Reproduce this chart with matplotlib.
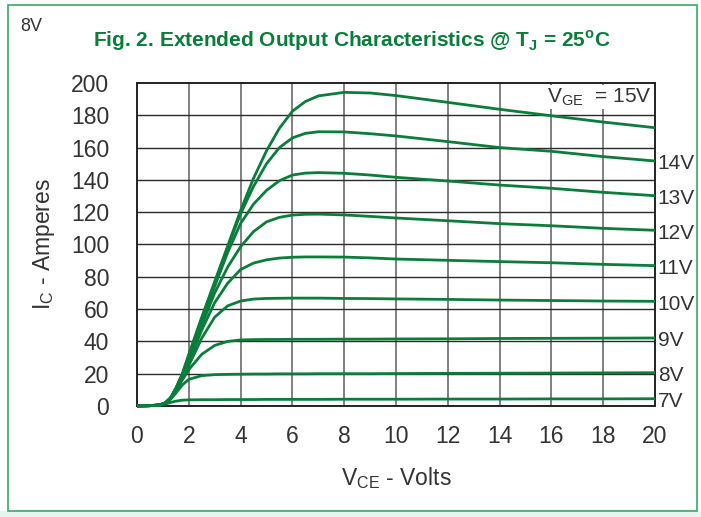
import matplotlib.pyplot as plt
from matplotlib.patches import Rectangle

# V_CE sample points (volts)
vce = [0, 0.5, 0.9, 1.1, 1.3, 1.5, 1.75, 2, 2.5, 3, 3.5, 4, 4.5, 5, 5.5,
       6, 6.5, 7, 8, 9, 10, 12, 14, 16, 18, 20]

# I_C (amperes), one list per gate voltage
ic_7v = [0, 0.2, 0.6, 1.2, 2.2, 3.0, 3.6, 3.8, 3.9, 3.9, 4.0, 4.0, 4.0, 4.1, 4.1,
         4.1, 4.1, 4.1, 4.2, 4.2, 4.2, 4.3, 4.3, 4.4, 4.4, 4.5]
ic_8v = [0, 0.2, 0.7, 1.8, 4.2, 8.0, 13.0, 16.5, 18.8, 19.4, 19.6, 19.7, 19.8, 19.8, 19.9,
         19.9, 19.9, 20.0, 20.0, 20.0, 20.1, 20.2, 20.3, 20.4, 20.5, 20.6]
ic_9v = [0, 0.2, 0.7, 2.0, 4.8, 9.5, 16.0, 22.5, 32.0, 37.5, 40.0, 40.9, 41.1, 41.2, 41.2,
         41.3, 41.3, 41.3, 41.4, 41.4, 41.5, 41.6, 41.8, 41.9, 42.0, 42.1]
ic_10v = [0, 0.2, 0.7, 2.0, 5.0, 10.0, 17.0, 25.0, 42.0, 55.0, 62.0, 65.0, 66.2, 66.6, 66.7,
          66.8, 66.8, 66.8, 66.6, 66.5, 66.3, 66.0, 65.6, 65.3, 65.0, 64.8]
ic_11v = [0, 0.2, 0.7, 2.0, 5.0, 10.2, 18.0, 27.0, 47.0, 64.0, 76.0, 84.5, 88.5, 90.5, 91.6,
          92.1, 92.3, 92.3, 92.2, 91.7, 91.0, 90.2, 89.4, 88.7, 87.7, 86.9]
ic_12v = [0, 0.2, 0.7, 2.0, 5.0, 10.4, 18.5, 28.0, 50.0, 70.0, 86.0, 98.6, 108.0, 114.0, 116.8,
          118.2, 118.7, 118.8, 118.3, 117.4, 116.4, 114.7, 112.9, 111.6, 110.0, 108.8]
ic_13v = [0, 0.2, 0.7, 2.0, 5.0, 10.6, 19.0, 30.0, 53.0, 74.0, 95.0, 113.0, 125.0, 133.5, 139.5,
          143.0, 144.2, 144.5, 144.1, 143.0, 141.6, 139.3, 136.8, 134.8, 132.3, 130.2]
ic_14v = [0, 0.2, 0.7, 2.0, 5.0, 10.8, 19.5, 31.0, 54.0, 76.0, 98.0, 119.0, 136.0, 150.0, 160.0,
          166.0, 168.8, 169.8, 169.7, 168.6, 167.2, 163.7, 160.0, 157.7, 154.4, 151.7]
ic_15v = [0, 0.2, 0.7, 2.0, 5.0, 11.0, 20.0, 32.0, 55.0, 77.0, 99.0, 121.0, 141.0, 158.0, 172.0,
          182.5, 188.5, 192.0, 194.2, 193.8, 192.2, 188.0, 183.7, 179.7, 175.8, 172.3]

curves = [ic_7v, ic_8v, ic_9v, ic_10v, ic_11v, ic_12v, ic_13v, ic_14v, ic_15v]
end_labels = ["7V", "8V", "9V", "10V", "11V", "12V", "13V", "14V"]

x_ticks = list(range(0, 21, 2))
y_ticks = list(range(0, 201, 20))

green = "#0b7d3b"
txt = "#333333"
font = ["Liberation Sans", "DejaVu Sans"]
plt.rcParams["font.family"] = font

fig = plt.figure(figsize=(7.01, 5.17), dpi=100)
fig.patch.set_facecolor("white")

# outer frame
fig.patches.append(Rectangle((0.0, 0.0), 1.0, 0.012, transform=fig.transFigure,
                             facecolor="#e8f4ee", edgecolor="none", zorder=0))
fig.patches.append(Rectangle((0.011, 0.012), 0.984, 0.978, transform=fig.transFigure,
                             facecolor="none", edgecolor="#3aa866", linewidth=1.2, zorder=1))

ax = fig.add_axes([0.1954, 0.2147, 0.7390, 0.6248])

for ic in curves:
    ax.plot(vce, ic, color=green, linewidth=2.0, solid_joinstyle="round",
            solid_capstyle="butt", zorder=3, clip_on=False)

ax.set_xlim(0, 20)
ax.set_ylim(0, 200)
ax.set_xticks(x_ticks)
ax.set_yticks(y_ticks)

for xv in x_ticks[1:-1]:
    ax.axvline(xv, color="#6b6b6b", linewidth=1.2, zorder=1)
for yv in y_ticks[1:-1]:
    ax.axhline(yv, color="#2a2a2a", linewidth=1.0, zorder=1)

for s in ax.spines.values():
    s.set_color("#222222")
    s.set_linewidth(1.4)

ax.tick_params(length=0, labelsize=16.5, labelcolor=txt, pad=14)
ax.tick_params(axis="y", pad=20)

ax.set_xlabel("V$_{\\mathregular{CE}}$ - Volts", fontsize=16.5, color=txt, labelpad=12)
ax.set_ylabel("I$_{\\mathregular{C}}$ - Amperes", fontsize=16.5, color=txt, labelpad=10)

# gate voltage labels at the right end of each curve
for ic, lab in zip(curves[:-1], end_labels):
    ax.annotate(lab, xy=(vce[-1], ic[-1]), xytext=(2, -2), textcoords="offset points",
                ha="left", va="center", fontsize=15, color=txt, annotation_clip=False)

ax.text(0.994, 0.99, "V$_{\\mathregular{GE}}$  = 15V", transform=ax.transAxes,
        ha="right", va="top", fontsize=15, color=txt, zorder=5,
        bbox=dict(facecolor="white", edgecolor="none", pad=0.8))

fig.text(0.502, 0.921, "Fig. 2. Extended Output Characteristics @ T$_{\\mathregular{J}}$ = 25$^{\\mathregular{o}}$C",
         ha="center", va="center", fontsize=15, fontweight="bold", color=green)
fig.text(0.029, 0.948, "8V", ha="left", va="center", fontsize=13, color=txt)

fig.savefig("out.png", dpi=100)
